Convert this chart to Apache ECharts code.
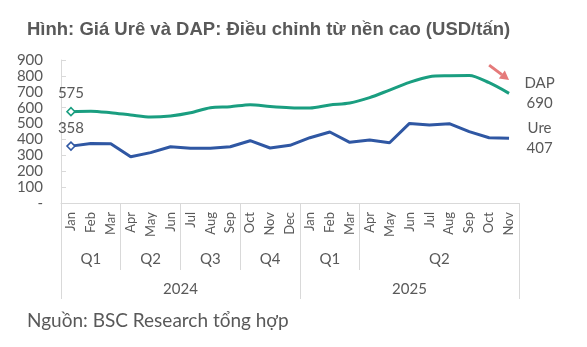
<!DOCTYPE html>
<html>
<head>
<meta charset="utf-8">
<script src="https://cdn.jsdelivr.net/npm/echarts@6/dist/echarts.min.js"></script>
<style>
html,body{margin:0;padding:0;background:#fff;}
#c{width:587px;height:347px;}
</style>
</head>
<body>
<div id="c"></div>
<script>
// ---- data ----
const months = ['Jan','Feb','Mar','Apr','May','Jun','Jul','Aug','Sep','Oct','Nov','Dec',
                'Jan','Feb','Mar','Apr','May','Jun','Jul','Aug','Sep','Oct','Nov'];
const dapValues = [575,578,568,554,541,548,568,600,606,619,608,600,
                   598,617,629,663,711,759,795,801,803,757,690];
const ureValues = [358,375,373,291,317,354,344,344,354,392,346,363,
                   411,447,382,396,379,501,491,499,449,411,407];
const quarterNames = ['Q1','Q2','Q3','Q4','Q1','Q2'];
const quarterSpans = [3,3,3,3,3,8];
const yearNames = ['2024','2025'];
const yearSpans = [12,11];
const yTicks = [0,100,200,300,400,500,600,700,800,900];

// ---- helpers: half-month grid for group labels ----
function buildGroup(names, spans){
  const total = spans.reduce((a,b)=>a+b,0);
  const n = 2*total+1;
  const labels = new Array(n).fill('');
  const bounds = new Set();
  let s = 0;
  names.forEach((nm,i)=>{
    bounds.add(2*s);
    labels[2*s + spans[i]] = nm;
    s += spans[i];
  });
  bounds.add(2*total);
  const cats = labels.map((_,i)=>String(i));
  return {labels, bounds, cats};
}
const qGroup = buildGroup(quarterNames, quarterSpans);
const yGroup = buildGroup(yearNames, yearSpans);

const GRAY = '#595959';
const LINE = '#d9d9d9';
const FONT = 'Lato, "Noto Sans", sans-serif';
const DAP_COLOR = '#1a9e80';
const URE_COLOR = '#2f57a3';

function makeData(vals, name){
  const last = vals.length-1;
  return vals.map((v,i)=>{
    if(i===0) return {value:v, symbol:'diamond', symbolSize:8,
      label:{show:true, position:'top', distance:6, formatter:'{c}', color:GRAY, fontSize:15, fontFamily:FONT}};
    if(i===last) return {value:v, symbol:'circle', symbolSize:1,
      itemStyle:{color:'rgba(0,0,0,0)', borderWidth:0},
      label:{show:true, position:'right', distance:30, align:'center',
        formatter:name+'\n{c}', color:GRAY, fontSize:15, fontFamily:FONT, lineHeight:20}};
    return v;
  });
}

const chart = echarts.init(document.getElementById('c'), null, {renderer:'canvas'});

function groupAxis(group, tickLen, margin){
  return {
    type:'category', position:'bottom', gridIndex:0,
    data: group.cats, boundaryGap:false,
    axisLine:{show:false},
    axisTick:{show:true, length:tickLen, interval:(idx)=>group.bounds.has(idx),
      lineStyle:{color:LINE, width:1}},
    axisLabel:{show:true, interval:(idx)=>group.labels[idx]!=='',
      formatter:(v,idx)=>group.labels[Number(v)],
      margin:margin, color:GRAY, fontSize:15, fontFamily:FONT},
    splitLine:{show:false}
  };
}

chart.setOption({
  animation:false,
  title:[
    {text:'Hình: Giá Urê và DAP: Điều chỉnh từ nền cao (USD/tấn)', left:22, top:15,
     textStyle:{fontSize:18.5, fontWeight:'bold', color:GRAY, fontFamily:'"Liberation Sans", Arial, sans-serif'}},
    {text:'Nguồn: BSC Research tổng hợp', left:22, top:306,
     textStyle:{fontSize:19, fontWeight:'normal', color:GRAY, fontFamily:FONT}}
  ],
  grid:{left:61, right:68, top:60, bottom:144, containLabel:false},
  xAxis:[
    {type:'category', data:months, boundaryGap:true, position:'bottom',
     axisLine:{show:true, lineStyle:{color:LINE, width:1}},
     axisTick:{show:false},
     axisLabel:{interval:0, rotate:90, margin:9, color:GRAY, fontSize:13, fontFamily:FONT},
     splitLine:{show:false}},
    groupAxis(qGroup, 67, 49),
    groupAxis(yGroup, 96, 79)
  ],
  yAxis:{type:'value', min:yTicks[0], max:yTicks[yTicks.length-1], interval:100,
    axisLine:{show:true, lineStyle:{color:LINE}},
    axisTick:{show:true, inside:true, length:5, lineStyle:{color:LINE}},
    splitLine:{show:false},
    axisLabel:{margin:18, color:GRAY, fontSize:15, fontFamily:FONT,
      formatter:(v)=> v===0 ? '-' : String(v)}},
  series:[
    {name:'DAP', type:'line', xAxisIndex:0, data:makeData(dapValues,'DAP'), smooth:0.3,
     symbol:'none', lineStyle:{color:DAP_COLOR, width:3}, itemStyle:{color:'#fff', borderColor:DAP_COLOR, borderWidth:1.5}, z:3},
    {name:'Ure', type:'line', xAxisIndex:0, data:makeData(ureValues,'Ure'), smooth:false,
     symbol:'none', lineStyle:{color:URE_COLOR, width:3}, itemStyle:{color:'#fff', borderColor:URE_COLOR, borderWidth:1.5}, z:3}
  ]
});

// annotation arrow (downtrend hint), positioned in data space
const p1 = chart.convertToPixel({gridIndex:0}, [20.7, 868]);
const p2 = chart.convertToPixel({gridIndex:0}, [22.05, 774]);
const ang = Math.atan2(p2[1]-p1[1], p2[0]-p1[0]);
const hl = 9, hw = 5;
const bx = p2[0]-hl*Math.cos(ang), by = p2[1]-hl*Math.sin(ang);
chart.setOption({
  graphic:[
    {type:'line', shape:{x1:p1[0], y1:p1[1], x2:bx, y2:by}, style:{stroke:'#e57a7a', lineWidth:3}},
    {type:'polygon', shape:{points:[[p2[0],p2[1]],
      [bx+hw*Math.sin(ang), by-hw*Math.cos(ang)],
      [bx-hw*Math.sin(ang), by+hw*Math.cos(ang)]]}, style:{fill:'#e57a7a'}}
  ]
});
</script>
</body>
</html>
